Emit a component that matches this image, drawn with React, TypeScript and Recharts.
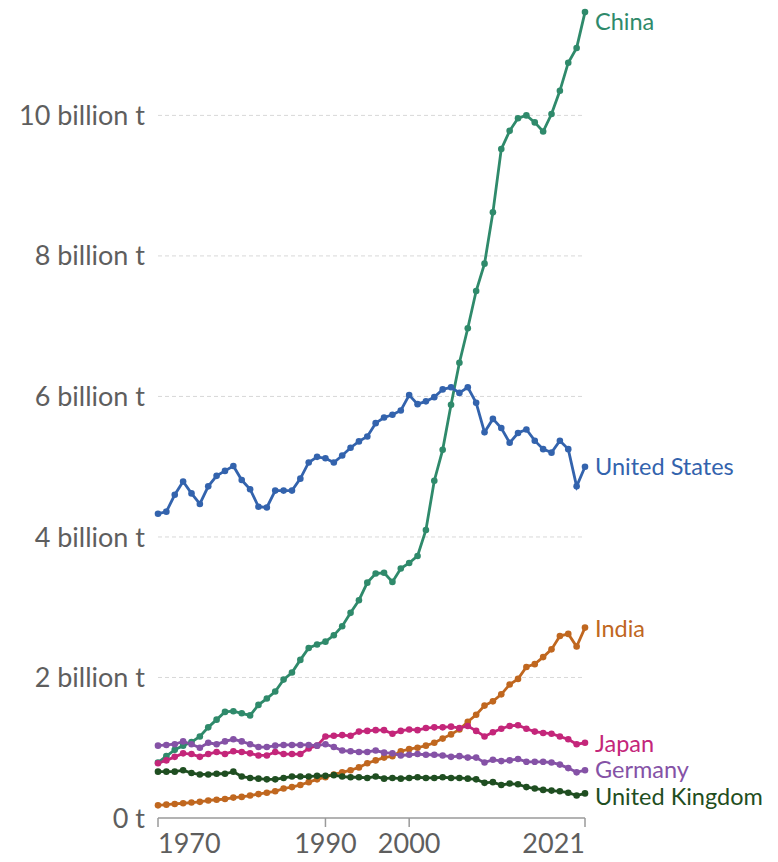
import React from "react";
import { LineChart, Line, XAxis, YAxis, CartesianGrid } from "recharts";

const years = [
  1970, 1971, 1972, 1973, 1974, 1975, 1976, 1977, 1978, 1979,
  1980, 1981, 1982, 1983, 1984, 1985, 1986, 1987, 1988, 1989,
  1990, 1991, 1992, 1993, 1994, 1995, 1996, 1997, 1998, 1999,
  2000, 2001, 2002, 2003, 2004, 2005, 2006, 2007, 2008, 2009,
  2010, 2011, 2012, 2013, 2014, 2015, 2016, 2017, 2018, 2019,
  2020, 2021,
];

const china = [
  0.79, 0.88, 0.97, 1.03, 1.08, 1.16, 1.29, 1.4, 1.51, 1.52,
  1.49, 1.46, 1.61, 1.7, 1.8, 1.97, 2.07, 2.25, 2.42, 2.47,
  2.51, 2.6, 2.73, 2.92, 3.1, 3.35, 3.48, 3.49, 3.36, 3.55,
  3.63, 3.73, 4.1, 4.8, 5.24, 5.88, 6.48, 6.97, 7.5, 7.89,
  8.62, 9.52, 9.78, 9.96, 10.0, 9.9, 9.77, 10.02, 10.35, 10.75,
  10.96, 11.47,
];

const unitedStates = [
  4.33, 4.36, 4.6, 4.79, 4.62, 4.47, 4.72, 4.87, 4.94, 5.01,
  4.81, 4.68, 4.43, 4.42, 4.66, 4.66, 4.66, 4.83, 5.06, 5.14,
  5.12, 5.06, 5.16, 5.27, 5.36, 5.43, 5.62, 5.7, 5.74, 5.8,
  6.02, 5.89, 5.93, 5.99, 6.1, 6.13, 6.05, 6.13, 5.91, 5.49,
  5.68, 5.55, 5.34, 5.48, 5.53, 5.37, 5.25, 5.2, 5.37, 5.25,
  4.72, 5.0,
];

const india = [
  0.18, 0.19, 0.2, 0.21, 0.22, 0.23, 0.25, 0.26, 0.27, 0.29,
  0.3, 0.32, 0.34, 0.36, 0.38, 0.42, 0.44, 0.47, 0.51, 0.55,
  0.58, 0.62, 0.65, 0.68, 0.72, 0.78, 0.82, 0.86, 0.88, 0.95,
  0.98, 1.0, 1.03, 1.07, 1.13, 1.19, 1.26, 1.37, 1.47, 1.6,
  1.66, 1.76, 1.9, 1.98, 2.15, 2.19, 2.29, 2.4, 2.59, 2.62,
  2.44, 2.71,
];

const japan = [
  0.78, 0.82, 0.87, 0.92, 0.91, 0.87, 0.91, 0.94, 0.91, 0.95,
  0.94, 0.92, 0.89, 0.89, 0.94, 0.91, 0.91, 0.91, 0.99, 1.03,
  1.16, 1.17, 1.18, 1.17, 1.23, 1.24, 1.25, 1.25, 1.2, 1.24,
  1.26, 1.25, 1.28, 1.29, 1.29, 1.3, 1.28, 1.31, 1.24, 1.16,
  1.22, 1.27, 1.31, 1.32, 1.27, 1.23, 1.21, 1.2, 1.16, 1.12,
  1.05, 1.07,
];

const germany = [
  1.03, 1.04, 1.05, 1.09, 1.05, 1.0, 1.07, 1.05, 1.09, 1.12,
  1.09, 1.05, 1.01, 1.01, 1.03, 1.04, 1.04, 1.04, 1.04, 1.03,
  1.05, 1.01, 0.96, 0.95, 0.94, 0.94, 0.96, 0.93, 0.92, 0.89,
  0.9, 0.91, 0.9, 0.9, 0.89, 0.87, 0.88, 0.86, 0.86, 0.79,
  0.83, 0.81, 0.82, 0.84, 0.8, 0.8, 0.8, 0.79, 0.76, 0.71,
  0.65, 0.68,
];

const unitedKingdom = [
  0.66, 0.66, 0.66, 0.68, 0.64, 0.62, 0.62, 0.63, 0.63, 0.66,
  0.59, 0.57, 0.56, 0.55, 0.55, 0.57, 0.59, 0.59, 0.59, 0.6,
  0.6, 0.61, 0.59, 0.58, 0.58, 0.57, 0.59, 0.56, 0.57, 0.56,
  0.57, 0.58, 0.57, 0.57, 0.58, 0.57, 0.57, 0.56, 0.55, 0.5,
  0.51, 0.47, 0.49, 0.48, 0.44, 0.42, 0.4, 0.39, 0.38, 0.36,
  0.32, 0.35,
];

const xTicks = [1970, 1990, 2000, 2021];
const yTicks = [0, 2, 4, 6, 8, 10];
const gridValues = [2, 4, 6, 8, 10];

const seriesNames = ["China", "United States", "India", "Japan", "Germany", "United Kingdom"];
const seriesValues = [china, unitedStates, india, japan, germany, unitedKingdom];

const seriesStyle: Record<string, { color: string; dy: number }> = {
  China: { color: "#2f8a6b", dy: 10 },
  "United States": { color: "#3363ad", dy: 0 },
  India: { color: "#c0671f", dy: 1 },
  Japan: { color: "#c4267a", dy: 1 },
  Germany: { color: "#8552a6", dy: -1 },
  "United Kingdom": { color: "#1f4e21", dy: 3 },
};

const data = years.map((year, i) => {
  const row: Record<string, number> = { year };
  seriesNames.forEach((name, k) => {
    row[name] = seriesValues[k][i];
  });
  return row;
});

const FONT = "Lato, 'Noto Sans', sans-serif";
const lastIndex = years.length - 1;

const XTick = (props: any) => {
  const { x, y, payload } = props;
  const v = payload.value;
  const anchor = v === xTicks[0] ? "start" : v === xTicks[xTicks.length - 1] ? "end" : "middle";
  return (
    <text x={x} y={y} dy="0.71em" textAnchor={anchor} fill="#5e5e5e" fontSize={27} fontFamily={FONT}>
      {v}
    </text>
  );
};

const makeLabel = (name: string) => (props: any) => {
  const { x, y, index } = props;
  if (index !== lastIndex) return <g />;
  const st = seriesStyle[name];
  return (
    <text
      x={x + 10}
      y={y + st.dy}
      dy="0.355em"
      textAnchor="start"
      fill={st.color}
      fontSize={23.5}
      fontFamily={FONT}
    >
      {name}
    </text>
  );
};

export default function App() {
  return (
    <div style={{ width: 762, height: 854, background: "#fff" }}>
      <LineChart width={762} height={854} data={data} margin={{ top: 2, right: 185, bottom: 0, left: 0 }}>
        <CartesianGrid vertical={false} horizontalValues={gridValues} stroke="#d8d8d8" strokeDasharray="4 3" />
        <XAxis
          dataKey="year"
          type="number"
          domain={[1970, 2021]}
          ticks={xTicks}
          height={44}
          tickSize={9}
          tickMargin={7}
          axisLine={{ stroke: "#9a9a9a", strokeWidth: 1.5 }}
          tickLine={{ stroke: "#9a9a9a", strokeWidth: 1.5 }}
          tick={<XTick />}
          interval={0}
        />
        <YAxis
          type="number"
          domain={[0, 11.5]}
          ticks={yTicks}
          width={150}
          tickSize={0}
          tickMargin={13}
          axisLine={false}
          tickLine={false}
          interval={0}
          tick={{ fill: "#5e5e5e", fontSize: 27, fontFamily: FONT }}
          tickFormatter={(v: number) => (v === 0 ? "0 t" : `${v} billion t`)}
        />
        {seriesNames.map((name) => (
          <Line
            key={name}
            dataKey={name}
            type="linear"
            stroke={seriesStyle[name].color}
            strokeWidth={2.8}
            dot={{ r: 3.3, fill: seriesStyle[name].color, stroke: "none" }}
            activeDot={false}
            isAnimationActive={false}
            label={makeLabel(name)}
          />
        ))}
      </LineChart>
    </div>
  );
}
